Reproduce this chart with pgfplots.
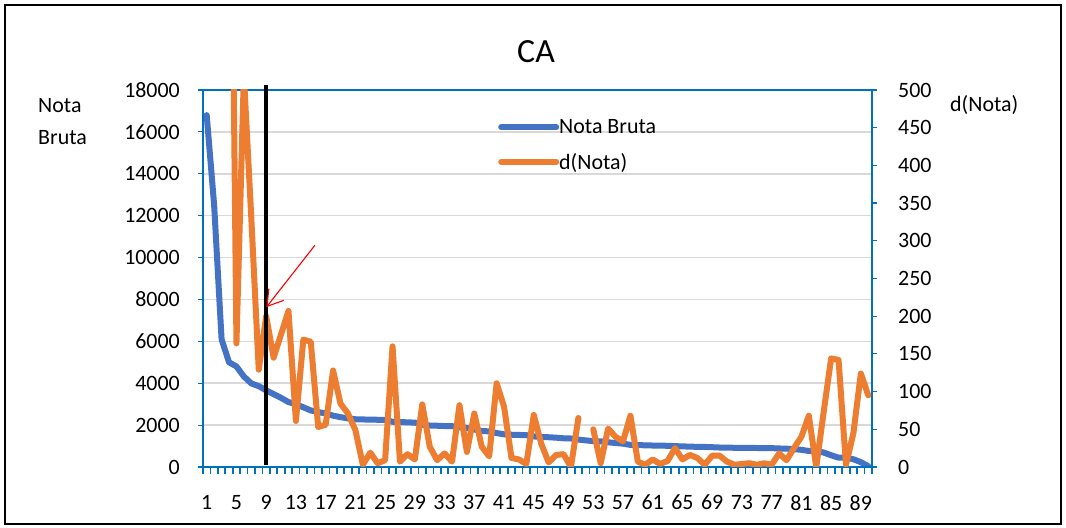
\documentclass[border=0pt]{standalone}
\usepackage{pgfplots}
\pgfplotsset{compat=1.18}
\usepackage{pgfplotstable}
\usepackage{fontspec}
\setmainfont{Carlito}
\usetikzlibrary{arrows.meta}
\definecolor{seriesblue}{HTML}{4472C4}
\definecolor{seriesorange}{HTML}{ED7D31}
\definecolor{axisblue}{HTML}{0070C0}
\definecolor{gridgray}{HTML}{D9D9D9}

\pgfplotstableread{
k v
1 16800
2 12500
3 6100
4 5000
5 4800
6 4320
7 3990
8 3860
9 3660
10 3480
11 3300
12 3100
13 3000
14 2850
15 2700
16 2620
17 2560
18 2450
19 2380
20 2320
21 2280
22 2270
23 2260
24 2255
25 2250
26 2160
27 2150
28 2130
29 2120
30 2020
31 1980
32 1970
33 1955
34 1950
35 1900
36 1860
37 1790
38 1720
39 1700
40 1620
41 1560
42 1540
43 1530
44 1520
45 1460
46 1430
47 1420
48 1400
49 1370
50 1360
51 1310
52 1270
53 1235
54 1225
55 1180
56 1145
57 1115
58 1055
59 1045
60 1035
61 1025
62 1020
63 1012
64 995
65 985
66 972
67 962
68 958
69 945
70 930
71 922
72 918
73 915
74 910
75 907
76 903
77 900
78 885
79 875
80 855
81 820
82 765
83 762
84 690
85 560
86 445
87 440
88 370
89 230
90 40
}\notatable

\pgfplotstableread{
k d
1 nan
2 4300
3 6400
4 1100
5 164
6 520
7 330
8 129
9 200
10 145
11 176
12 207
13 61
14 169
15 166
16 53
17 56
18 128
19 84
20 71
21 49
22 3
23 19
24 5
25 9
26 160
27 7
28 17
29 10
30 83
31 27
32 9
33 18
34 7
35 82
36 20
37 71
38 27
39 14
40 111
41 80
42 12
43 10
44 4
45 69
46 31
47 6
48 16
49 17
50 0
51 65
52 nan
53 50
54 5
55 51
56 40
57 34
58 68
59 7
60 3
61 10
62 4
63 8
64 25
65 10
66 16
67 12
68 3
69 15
70 15
71 7
72 3
73 4
74 5
75 3
76 5
77 3
78 18
79 9
80 25
81 40
82 68
83 0
84 73
85 144
86 142
87 3
88 45
89 124
90 95
}\dtable

\begin{document}
\begin{tikzpicture}[x=1bp,y=1bp]
\useasboundingbox (-203,-61) rectangle (863,467);
\draw[line width=2.5bp] (-198,-57) rectangle (858,462);
\pgfplotsset{
  common/.style={
    scale only axis, width=669bp, height=377bp,
    at={(0,0)}, anchor=south west,
    xmin=0.5, xmax=90.5,
    /pgf/number format/assume math mode=true,
    /pgf/number format/1000 sep={},
    scaled y ticks=false,
    tick label style={font=\fontsize{22}{26}\selectfont, inner sep=0pt},
    tick align=outside,
    major tick length=5bp,
  }
}
\begin{axis}[common,
  ymin=0, ymax=18000, ytick={0,2000,...,18000},
  xtick={1,5,...,89},
  xtick pos=left, ytick pos=left,
  xtick style={draw=none},
  ytick style={axisblue, line width=1.2bp},
  xticklabel style={anchor=north, yshift=-23bp},
  yticklabel style={anchor=east, xshift=-18bp},
  ymajorgrids, major grid style={gridgray, line width=1.5bp},
  axis line style={axisblue, line width=1.5bp},
  title={CA},
  title style={at={(rel axis cs:0.4978,1.087)}, anchor=center, inner sep=0pt, font=\fontsize{34}{40}\selectfont},
  ylabel={Nota\\Bruta},
  every axis y label/.style={at={(rel axis cs:-0.2466,0.979)}, anchor=north west, align=left, inner sep=0pt, font=\fontsize{22}{32}\selectfont},
]
\addplot[seriesblue, line width=6bp, line join=round, line cap=round] table[x=k,y=v]{\notatable};
\end{axis}
% category boundary tick marks
\begin{axis}[common,
  ymin=0, ymax=1,
  axis y line=none, axis x line*=bottom,
  xtick={0.5,1.5,...,90.5},
  xticklabel=\empty,
  major tick length=7bp,
  xtick style={axisblue, line width=1.7bp},
  axis line style={axisblue, line width=1.5bp},
]
\end{axis}
\begin{axis}[common,
  ymin=0, ymax=500, ytick={0,50,...,500},
  axis x line=none, axis y line*=right,
  ytick style={axisblue, line width=1.2bp},
  yticklabel style={anchor=west, xshift=21bp},
  axis line style={axisblue, line width=1.5bp},
  clip mode=individual,
  unbounded coords=jump,
  ylabel={d(Nota)},
  every axis y label/.style={at={(rel axis cs:1.1166,0.987)}, anchor=north west, inner sep=0pt, font=\fontsize{22}{26}\selectfont},
  legend cell align=left,
  legend image code/.code={\draw[#1] (0bp,0bp) -- (55bp,0bp);},
  legend style={draw=none, fill=none, at={(0.441,0.854)}, anchor=west, inner sep=0pt,
    row sep=18bp, font=\fontsize{22}{26}\selectfont, nodes={inner sep=0bp}},
]
\addlegendimage{seriesblue, line width=6bp, line cap=round}
\addlegendentry{Nota Bruta}
\addplot[seriesorange, line width=6bp, line join=round, line cap=round] table[x=k,y=d]{\dtable};
\addlegendentry{d(Nota)}
\draw[black, line width=3.5bp] (axis cs:9,3) -- (axis cs:9,506.6);
\draw[red, line width=1.1bp, -{Straight Barb[length=15bp,width=19bp]}] (axis cs:15.55,294) -- (axis cs:9.03,212);
\end{axis}
\end{tikzpicture}
\end{document}
